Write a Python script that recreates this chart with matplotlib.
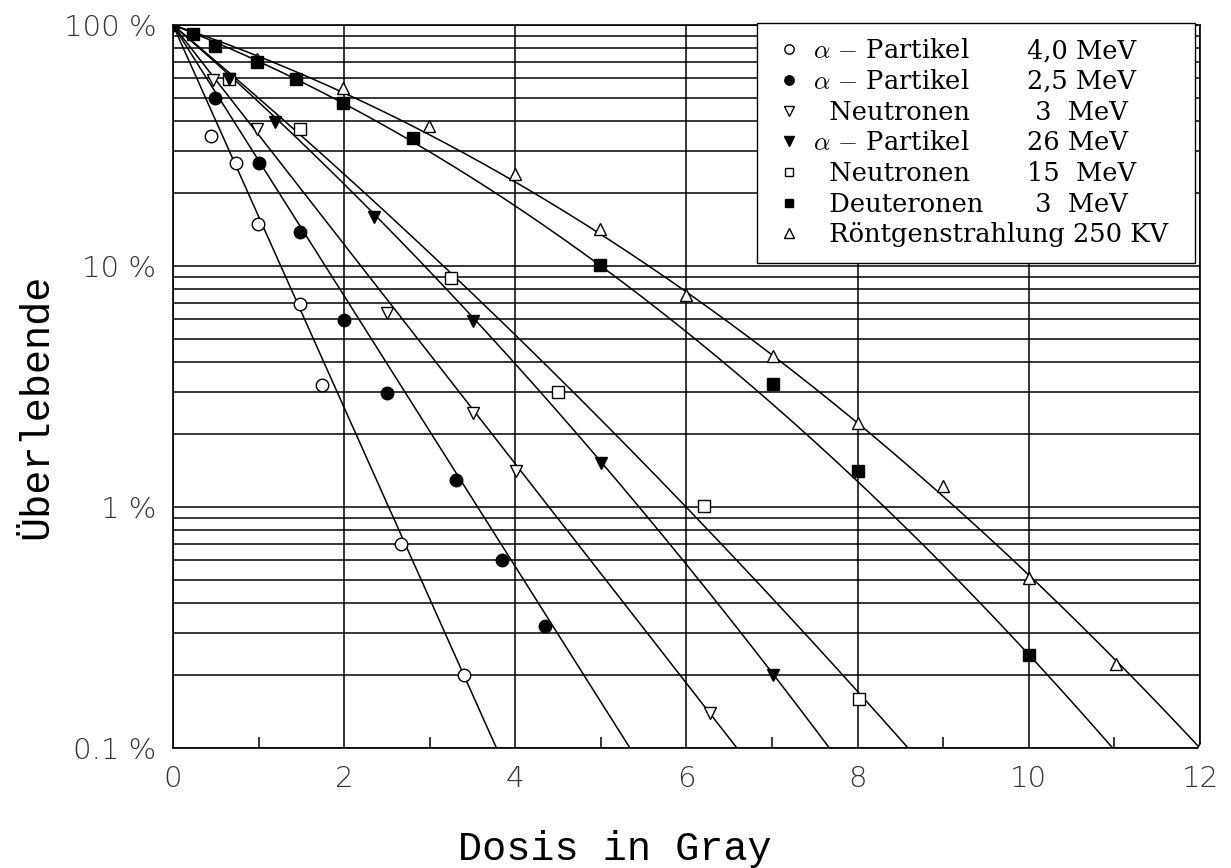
import numpy as np
import matplotlib
matplotlib.use('Agg')
import matplotlib.pyplot as plt
from matplotlib.ticker import FixedLocator, LogLocator, NullFormatter

plt.rcParams['mathtext.fontset'] = 'cm'

# ---------------------------------------------------------------- data
# legend entries
names = [r'$\alpha$ $-$ Partikel', r'$\alpha$ $-$ Partikel', '  Neutronen',
         r'$\alpha$ $-$ Partikel', '  Neutronen', '  Deuteronen',
         '  Röntgenstrahlung 250 KV']
energies = ['4,0 MeV', '2,5 MeV', ' 3  MeV', '26 MeV', '15  MeV', ' 3  MeV', '']

# measured points (dose in Gy, survival in %)
dose_a40 = [0.44, 0.74, 0.99, 1.49, 1.74, 2.66, 3.40]
surv_a40 = [34.6, 26.7, 15.0, 6.95, 3.2, 0.70, 0.20]

dose_a25 = [0, 0.49, 1.0, 1.48, 2.0, 2.5, 3.31, 3.85, 4.35]
surv_a25 = [100, 49.6, 26.7, 13.9, 5.97, 2.98, 1.30, 0.60, 0.32]

dose_n3 = [0.47, 0.985, 2.5, 3.5, 4.01, 6.27]
surv_n3 = [59.1, 36.9, 6.36, 2.46, 1.41, 0.14]

dose_a26 = [0.65, 1.19, 2.35, 3.5, 5.0, 7.01]
surv_a26 = [59.5, 39.7, 16.0, 5.9, 1.52, 0.20]

dose_n15 = [0.65, 1.49, 3.25, 4.5, 6.21, 8.02]
surv_n15 = [59.5, 36.9, 8.9, 3.0, 1.01, 0.16]

dose_d3 = [0.24, 0.49, 0.985, 1.44, 1.99, 2.8, 4.99, 7.01, 8.01, 10.0]
surv_d3 = [91.8, 81.8, 70.4, 59.5, 47.6, 33.9, 10.1, 3.24, 1.41, 0.243]

dose_x = [0.985, 1.99, 2.99, 4.0, 4.99, 6.0, 7.01, 8.01, 9.0, 10.0, 11.02, 12.0]
surv_x = [72, 54.6, 38.1, 24.1, 14.2, 7.6, 4.23, 2.24, 1.22, 0.51, 0.224, 0.10]

# fitted curves: dose where the curve reaches 10 % and 0.1 %
dose_10 = [1.26, 1.78, 2.197, 2.94, 3.16, 5.0, 5.56]
dose_01 = [3.78, 5.34, 6.59, 7.67, 8.59, 10.98, 12.0]

series = [
    (dose_a40, surv_a40, 'o', False, 9),
    (dose_a25, surv_a25, 'o', True, 9),
    (dose_n3, surv_n3, 'v', False, 9),
    (dose_a26, surv_a26, 'v', True, 9),
    (dose_n15, surv_n15, 's', False, 8),
    (dose_d3, surv_d3, 's', True, 8),
    (dose_x, surv_x, '^', False, 9),
]

# ---------------------------------------------------------------- plot
fig = plt.figure(figsize=(12.31, 8.68), dpi=100)
ax = fig.add_axes([0.1405, 0.1382, 0.8343, 0.8330])

for (d, s, m, full, ms), name, d10, d01 in zip(series, names, dose_10, dose_01):
    # log10 S = 2 - a D - b D^2, passing through 10 % and 0.1 %
    a, b = np.linalg.solve([[d10, d10 ** 2], [d01, d01 ** 2]], [1.0, 3.0])
    D = np.linspace(0, d01, 300)
    ax.plot(D, 10 ** (2 - a * D - b * D ** 2), color='black', lw=1.1, zorder=2)
    ax.plot(d, s, linestyle='none', marker=m, ms=ms, mew=1.0,
            mec='black', mfc='black' if full else 'white',
            zorder=4 if full else 3, label=name)

ax.set_xlim(0, 12)
ax.set_yscale('log')
ax.set_ylim(0.1, 100)

# grid
ax.yaxis.set_minor_locator(LogLocator(base=10, subs=np.arange(2, 10)))
ax.yaxis.set_minor_formatter(NullFormatter())
ax.grid(True, axis='y', which='both', color='black', lw=1.1)
ax.xaxis.set_major_locator(FixedLocator([0, 2, 4, 6, 8, 10, 12]))
ax.xaxis.set_minor_locator(FixedLocator([1, 3, 5, 7, 9, 11]))
ax.grid(True, axis='x', which='major', color='black', lw=1.1)

ax.set_yticks([0.1, 1, 10, 100])
ax.set_yticklabels(['0.1 %', '1 %', '10 %', '100 %'])
ax.tick_params(axis='y', which='both', length=0, pad=12, labelsize=21)
ax.tick_params(axis='x', which='major', length=0, pad=12, labelsize=21)
ax.tick_params(axis='x', which='minor', length=8, width=1.1, direction='in')
for lab in ax.get_xticklabels() + ax.get_yticklabels():
    lab.set_family('DejaVu Sans')
    lab.set_fontweight('light')
    lab.set_color('#333333')

for sp in ax.spines.values():
    sp.set_linewidth(1.2)

ax.set_xlabel('Dosis in Gray', family='Liberation Mono', fontsize=29)
ax.set_ylabel('Überlebende', family='Liberation Mono', fontsize=29)
ax.xaxis.set_label_coords(0.43, -0.113)
ax.yaxis.set_label_coords(-0.115, 0.473)

leg = ax.legend(loc='upper left', bbox_to_anchor=(0.5686, 0.5, 0.4265, 0.503),
                mode='expand', borderaxespad=0,
                prop={'family': 'DejaVu Serif', 'size': 18.5}, fancybox=False,
                edgecolor='black', framealpha=1, handlelength=1.3,
                handletextpad=0.3, labelspacing=0.22, markerscale=0.75,
                borderpad=0.6)
leg.get_frame().set_linewidth(1.0)

# energy column, aligned with the legend rows
fig.canvas.draw()
inv = ax.transAxes.inverted()
for txt, en in zip(leg.get_texts(), energies):
    bb = txt.get_window_extent()
    y = inv.transform((0, (bb.y0 + bb.y1) / 2))[1]
    ax.text(0.832, y, en, transform=ax.transAxes, va='center', ha='left',
            family='DejaVu Serif', fontsize=18.5, zorder=6)

fig.savefig('out.png', dpi=100)
